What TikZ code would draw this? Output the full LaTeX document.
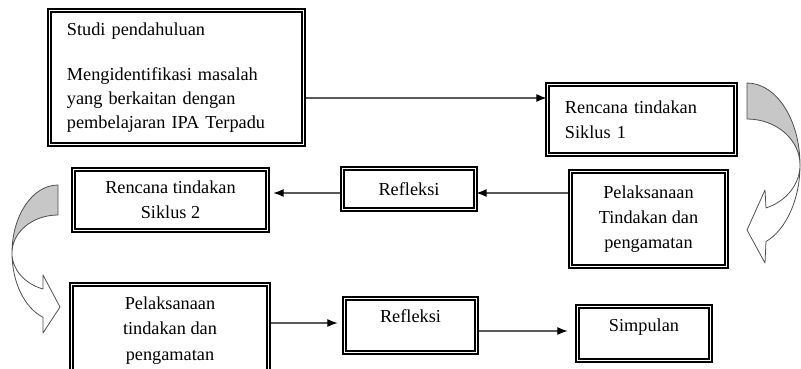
\documentclass[tikz,border=0pt]{standalone}
\usepackage{fontspec}
\setmainfont{Liberation Serif}
\usetikzlibrary{arrows.meta}
\begin{document}
\begin{tikzpicture}[
    x=0.025cm, y=0.025cm,
    box/.style={draw, double, double distance=1.2pt, line width=1pt, inner sep=0pt,
        font=\fontsize{13}{18}\selectfont},
    flow/.style={-{Latex[length=2.6mm, width=2mm]}, line width=0.8pt},
    bend_arrow/.style={draw=black!70, line width=0.55pt, line join=round}
]
\clip (0,0) rectangle (801,368);

% Kotak kegiatan
\node[box, text width=5.475cm, inner xsep=0.44cm, minimum height=3.355cm, align=left,
    font=\fontsize{13}{17}\selectfont] (studi) at (176.5,290.5)
    {Studi pendahuluan\\[15pt]Mengidentifikasi masalah\\yang berkaitan dengan\\pembelajaran IPA Terpadu};
\node[box, text width=3.825cm, inner xsep=0.44cm, minimum height=1.755cm, align=left]
    (rencanaA) at (641.5,248.5) {Rencana tindakan\\Siklus 1};
\node[box, minimum width=3.905cm, minimum height=2.38cm, align=center]
    (pelA) at (648.5,149) {Pelaksanaan\\Tindakan dan\\pengamatan};
\node[box, minimum width=3.33cm, minimum height=1.03cm] (refA) at (409,179) {Refleksi};
\node[box, minimum width=4.855cm, minimum height=1.53cm, align=center]
    (rencanaB) at (170.5,168) {Rencana tindakan\\Siklus 2};
\node[box, minimum width=4.93cm, minimum height=2.305cm, align=center]
    (pelB) at (170,37.5) {Pelaksanaan\\tindakan dan\\pengamatan};
\node[box, minimum width=3.305cm, minimum height=1.355cm, text depth=0.45cm]
    (refB) at (410.5,42.5) {Refleksi};
\node[box, minimum width=3.33cm, minimum height=1.355cm, text depth=0.4cm]
    (simp) at (644,34.5) {Simpulan};

% Alur
\draw[flow] ([yshift=-0.5125cm]studi.east) -- ([yshift=0.5375cm]rencanaA.west);
\draw[flow] ([yshift=0.65cm]pelA.west) -- ([yshift=-0.1cm]refA.east);
\draw[flow, shorten >=0.125cm] ([yshift=-0.1cm]refA.west) -- ([yshift=0.175cm]rencanaB.east);
\draw[flow, shorten >=0.15cm] ([yshift=0.1875cm]pelB.east) -- ([yshift=0.0625cm]refB.west);
\draw[flow, shorten >=0.225cm] ([yshift=-0.1375cm]refB.east) -- ([yshift=0.0625cm]simp.west);

% Panah lengkung kanan
\draw[bend_arrow, fill=black!22] (747,285)
    arc[start angle=90, end angle=0, x radius=1.325cm, y radius=2.05cm]
    arc[start angle=0, end angle=90, x radius=1.325cm, y radius=1.15cm] -- cycle;
\draw[bend_arrow, fill=white] (800,203)
    arc[start angle=0, end angle=-69, x radius=1.325cm, y radius=2.05cm]
    -- (765,105) -- (747,138) -- (765,178) -- (766,160)
    arc[start angle=-69, end angle=0, x radius=1.325cm, y radius=1.15cm] -- cycle;

% Panah lengkung kiri
\draw[bend_arrow, fill=black!22] (58,183)
    arc[start angle=90, end angle=180, x radius=1.15cm, y radius=1.7cm]
    arc[start angle=180, end angle=90, x radius=1.15cm, y radius=0.95cm] -- cycle;
\draw[bend_arrow, fill=white] (12,115)
    arc[start angle=180, end angle=251, x radius=1.15cm, y radius=1.7cm]
    -- (43,35) -- (60,61) -- (43,93) -- (43,79)
    arc[start angle=251, end angle=180, x radius=1.15cm, y radius=0.95cm] -- cycle;
\end{tikzpicture}
\end{document}
